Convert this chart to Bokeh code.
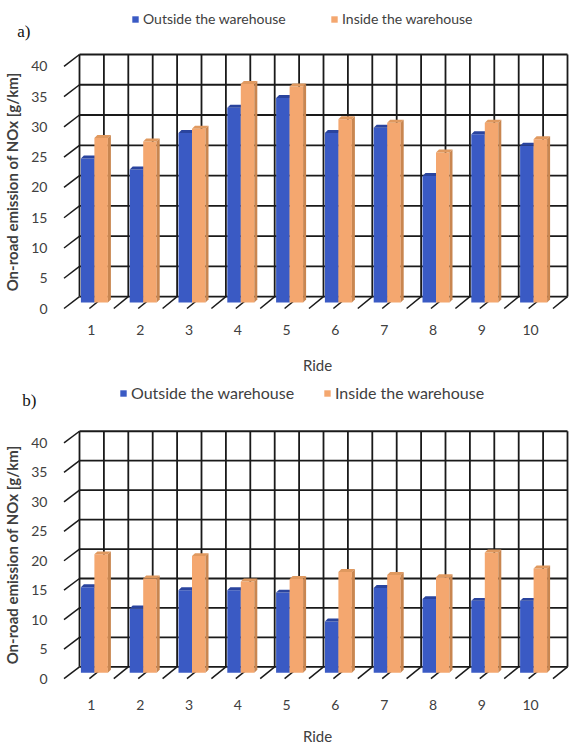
from bokeh.plotting import figure
from bokeh.models import Range1d, FixedTicker, Legend, LegendItem
from bokeh.layouts import column
from bokeh.embed import file_html
from bokeh.resources import INLINE

# ---------------- data ----------------
rides = [1, 2, 3, 4, 5, 6, 7, 8, 9, 10]
y_ticks = [0, 5, 10, 15, 20, 25, 30, 35, 40]
outside_a = [23.8, 22.0, 28.0, 32.2, 33.8, 28.0, 28.9, 20.9, 27.8, 25.9]
inside_a = [27.2, 26.6, 28.7, 36.1, 35.7, 30.3, 29.7, 24.8, 29.7, 27.0]
outside_b = [14.5, 10.9, 14.0, 14.0, 13.6, 8.7, 14.4, 12.5, 12.2, 12.2]
inside_b = [20.1, 16.0, 19.8, 15.5, 15.9, 17.1, 16.6, 16.2, 20.4, 17.7]
series_names = ["Outside the warehouse", "Inside the warehouse"]

# ---------------- style ----------------
BLUE, BLUE_TOP = "#3A5AC4", "#2A449E"
ORANGE, ORANGE_SIDE, ORANGE_TOP = "#F4A76F", "#C98650", "#E0995F"
GRID = "#1a1a1a"
TXT = "#404040"
FONT = "Lato"

W = 572
LEFT_B = 62           # frame left edge
PXX = 48.8            # px per category
DEPTH_X, DEPTH_Y = 12.5, 12.0   # px, 3-D depth of the wall
BAR_SHIFT_X, BAR_SHIFT_Y = 3.0, 6.0
BAR_W = 13.5
BAR_D = 3.0


def make_header(H, top_b, bottom_b, tag, tag_standoff, outside, inside,
                leg_y, leg_x1, leg_x2, leg_fs):
    frame_h = H - top_b - bottom_b
    h = figure(width=W, height=H, x_range=Range1d(LEFT_B, W), y_range=Range1d(0, frame_h),
               output_backend="svg", toolbar_location=None,
               min_border_left=LEFT_B, min_border_right=0,
               min_border_top=top_b, min_border_bottom=bottom_b)
    h.xaxis.visible = False
    h.xgrid.visible = False
    h.ygrid.visible = False
    h.outline_line_color = None
    # panel tag as a horizontal axis label
    h.yaxis.ticker = FixedTicker(ticks=[])
    h.yaxis.axis_line_color = None
    h.yaxis.major_tick_line_color = None
    h.yaxis.minor_tick_line_color = None
    h.yaxis.major_tick_out = 0
    h.yaxis.major_label_standoff = 0
    h.yaxis.axis_label = tag
    h.yaxis.axis_label_orientation = "horizontal"
    h.yaxis.axis_label_text_font = "Liberation Serif"
    h.yaxis.axis_label_text_font_size = "17px"
    h.yaxis.axis_label_text_font_style = "normal"
    h.yaxis.axis_label_text_color = "#111111"
    h.yaxis.axis_label_standoff = tag_standoff
    # hidden series renderers, used only for the legend keys
    r1 = h.quad(left=rides, right=rides, top=outside, bottom=outside,
                fill_color=BLUE, line_color=None, visible=False)
    r2 = h.quad(left=rides, right=rides, top=inside, bottom=inside,
                fill_color=ORANGE, line_color=None, visible=False)
    for r, name, lx in ((r1, series_names[0], leg_x1), (r2, series_names[1], leg_x2)):
        leg = Legend(items=[LegendItem(label=name, renderers=[r])],
                     location=(lx, leg_y), orientation="horizontal",
                     padding=0, margin=0, border_line_color=None,
                     background_fill_alpha=0, glyph_width=8, glyph_height=8,
                     label_standoff=4, label_height=14,
                     inactive_fill_alpha=0, click_policy="none",
                     label_text_font=FONT, label_text_font_size=leg_fs,
                     label_text_color=TXT)
        h.add_layout(leg)
    return h


def make_panel(outside, inside, H, frame_h, pxy, tick_standoff, xlabel_standoff):
    frame_w = W - LEFT_B
    x0 = 0.5 - 4.5 / PXX
    x_range = Range1d(x0, x0 + frame_w / PXX)
    y0 = -3.0 / pxy
    y_range = Range1d(y0, y0 + frame_h / pxy)
    bottom_b = H - frame_h

    p = figure(width=W, height=H, x_range=x_range, y_range=y_range,
               output_backend="svg", toolbar_location=None,
               min_border_left=LEFT_B, min_border_right=0,
               min_border_top=0, min_border_bottom=bottom_b)
    p.outline_line_color = None
    p.xgrid.visible = False
    p.ygrid.visible = False

    dx = DEPTH_X / PXX
    dy = DEPTH_Y / pxy
    n = len(rides)
    left_edge = rides[0] - 0.5
    right_edge = rides[-1] + 0.5

    # back wall vertical grid lines (category borders and centres)
    xs_v = [left_edge + k * 0.5 for k in range(2 * n + 1)]
    p.segment(x0=[x + dx for x in xs_v], y0=[dy] * len(xs_v),
              x1=[x + dx for x in xs_v], y1=[y_ticks[-1] + dy] * len(xs_v),
              line_color=GRID, line_width=1.8)
    # back wall horizontal grid lines
    p.segment(x0=[left_edge + dx] * len(y_ticks), y0=[t + dy for t in y_ticks],
              x1=[right_edge + dx] * len(y_ticks), y1=[t + dy for t in y_ticks],
              line_color=GRID, line_width=1.8)
    # left side slanted ticks
    ext = 3.0 / PXX
    p.segment(x0=[left_edge - ext] * len(y_ticks), y0=list(y_ticks),
              x1=[left_edge + dx] * len(y_ticks), y1=[t + dy for t in y_ticks],
              line_color=GRID, line_width=1.5)
    # floor slanted ticks
    fx = xs_v[1:]
    p.segment(x0=[x - 2.0 / PXX for x in fx], y0=[0] * len(fx),
              x1=[x + dx for x in fx], y1=[dy] * len(fx),
              line_color=GRID, line_width=1.5)

    # bars
    bx = BAR_SHIFT_X / PXX
    by = BAR_SHIFT_Y / pxy
    bw = BAR_W / PXX
    ddx = BAR_D / PXX
    ddy = BAR_D / pxy

    def bar_set(vals, offset, col, top_col, side_col):
        lefts = [c + bx + offset for c in rides]
        rights = [l + bw for l in lefts]
        tops = [by + v for v in vals]
        p.quad(left=lefts, right=rights, bottom=[by] * n, top=tops,
               fill_color=col, line_color=None)
        top_xs = [[l, l + ddx, rr + ddx, rr] for l, rr in zip(lefts, rights)]
        top_ys = [[t, t + ddy, t + ddy, t] for t in tops]
        p.patches(xs=top_xs, ys=top_ys, fill_color=top_col, line_color=None)
        side_xs = [[rr, rr + ddx, rr + ddx, rr] for rr in rights]
        side_ys = [[by, by + ddy, t + ddy, t] for t in tops]
        p.patches(xs=side_xs, ys=side_ys, fill_color=side_col, line_color=None)

    bar_set(outside, -bw, BLUE, BLUE_TOP, BLUE_TOP)
    bar_set(inside, 0.0, ORANGE, ORANGE_TOP, ORANGE_SIDE)

    # axes
    p.yaxis.ticker = FixedTicker(ticks=y_ticks)
    p.yaxis.axis_line_color = None
    p.yaxis.major_tick_line_color = None
    p.yaxis.minor_tick_line_color = None
    p.yaxis.major_label_standoff = 9
    p.yaxis.major_label_text_font = FONT
    p.yaxis.major_label_text_font_size = "14px"
    p.yaxis.major_label_text_color = TXT
    p.yaxis.axis_label = "On-road emission of NOx [g/km]"
    p.yaxis.axis_label_text_font = FONT
    p.yaxis.axis_label_text_font_size = "15px"
    p.yaxis.axis_label_text_font_style = "bold"
    p.yaxis.axis_label_text_color = TXT
    p.yaxis.axis_label_standoff = 7

    p.xaxis.ticker = FixedTicker(ticks=rides)
    p.xaxis.axis_line_color = None
    p.xaxis.major_tick_line_color = None
    p.xaxis.minor_tick_line_color = None
    p.xaxis.major_label_standoff = tick_standoff
    p.xaxis.major_label_text_font = FONT
    p.xaxis.major_label_text_font_size = "14px"
    p.xaxis.major_label_text_color = TXT
    p.xaxis.axis_label = "Ride"
    p.xaxis.axis_label_text_font = FONT
    p.xaxis.axis_label_text_font_size = "15px"
    p.xaxis.axis_label_text_font_style = "normal"
    p.xaxis.axis_label_text_color = TXT
    p.xaxis.axis_label_standoff = xlabel_standoff
    return p


ha = make_header(52, 10, 0, "a)", 32, outside_a, inside_a,
                 leg_y=25, leg_x1=69, leg_x2=268, leg_fs="14px")
pa = make_panel(outside_a, inside_a, H=324, frame_h=261, pxy=6.1,
                tick_standoff=7, xlabel_standoff=18)
hb = make_header(52, 0, 4, "b)", 26, outside_b, inside_b,
                 leg_y=22, leg_x1=57, leg_x2=261, leg_fs="16px")
pb = make_panel(outside_b, inside_b, H=319, frame_h=259, pxy=6.03,
                tick_standoff=12, xlabel_standoff=14)

layout = column(ha, pa, hb, pb, spacing=0)
open("out.html", "w").write(file_html(layout, INLINE))
